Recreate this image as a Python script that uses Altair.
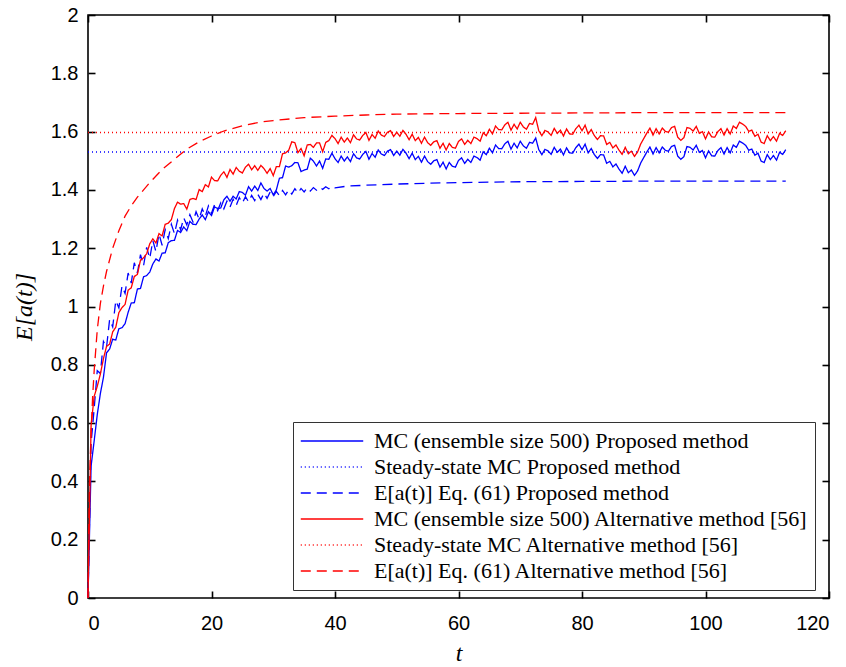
import altair as alt
import pandas as pd

# ---------------- data ----------------
T_STEP = 0.5  # MC samples every 0.5 time units, t = 0 ... 113

mc_proposed = [
    0, 0.453, 0.539, 0.629, 0.701, 0.757, 0.841, 0.854, 0.888, 0.885,
    0.924, 0.927, 0.941, 0.980, 1.012, 1.013, 1.060, 1.062, 1.102, 1.106,
    1.118, 1.146, 1.163, 1.156, 1.183, 1.184, 1.219, 1.226, 1.227, 1.261,
    1.254, 1.273, 1.260, 1.292, 1.282, 1.281, 1.300, 1.314, 1.298, 1.325,
    1.312, 1.342, 1.336, 1.338, 1.366, 1.378, 1.361, 1.378, 1.369, 1.394,
    1.391, 1.382, 1.411, 1.396, 1.413, 1.398, 1.424, 1.405, 1.396, 1.405,
    1.383, 1.400, 1.440, 1.442, 1.482, 1.478, 1.483, 1.494, 1.493, 1.463,
    1.468, 1.471, 1.509, 1.499, 1.482, 1.499, 1.474, 1.506, 1.505, 1.526,
    1.507, 1.494, 1.516, 1.499, 1.513, 1.497, 1.524, 1.510, 1.506, 1.522,
    1.532, 1.505, 1.525, 1.512, 1.537, 1.523, 1.518, 1.533, 1.538, 1.518,
    1.533, 1.519, 1.539, 1.526, 1.507, 1.526, 1.504, 1.515, 1.495, 1.516,
    1.497, 1.488, 1.500, 1.504, 1.478, 1.495, 1.472, 1.494, 1.481, 1.478,
    1.501, 1.510, 1.491, 1.505, 1.494, 1.516, 1.511, 1.502, 1.531, 1.521,
    1.543, 1.527, 1.554, 1.542, 1.541, 1.558, 1.567, 1.540, 1.560, 1.544,
    1.567, 1.551, 1.543, 1.563, 1.560, 1.578, 1.538, 1.521, 1.539, 1.534,
    1.522, 1.546, 1.529, 1.540, 1.520, 1.544, 1.527, 1.526, 1.545, 1.557,
    1.538, 1.557, 1.527, 1.542, 1.521, 1.508, 1.521, 1.520, 1.491, 1.498,
    1.479, 1.489, 1.471, 1.457, 1.481, 1.459, 1.468, 1.450, 1.465, 1.492,
    1.511, 1.530, 1.547, 1.523, 1.545, 1.527, 1.547, 1.536, 1.533, 1.549,
    1.553, 1.516, 1.505, 1.514, 1.549, 1.546, 1.537, 1.553, 1.529, 1.535,
    1.510, 1.534, 1.517, 1.516, 1.535, 1.545, 1.523, 1.545, 1.527, 1.554,
    1.546, 1.567, 1.561, 1.553, 1.536, 1.540, 1.519, 1.526, 1.499, 1.494,
    1.521, 1.504, 1.518, 1.502, 1.529, 1.522, 1.538,
]

mc_alternative = [
    0, 0.592, 0.692, 0.726, 0.768, 0.821, 0.863, 0.871, 0.913, 0.929,
    0.979, 0.996, 1.007, 1.056, 1.064, 1.103, 1.110, 1.159, 1.167, 1.181,
    1.215, 1.232, 1.218, 1.250, 1.242, 1.282, 1.286, 1.298, 1.336, 1.358,
    1.351, 1.353, 1.334, 1.367, 1.371, 1.367, 1.401, 1.394, 1.418, 1.410,
    1.444, 1.432, 1.431, 1.450, 1.462, 1.443, 1.470, 1.454, 1.477, 1.464,
    1.458, 1.478, 1.488, 1.469, 1.483, 1.467, 1.484, 1.473, 1.457, 1.473,
    1.449, 1.480, 1.480, 1.524, 1.527, 1.536, 1.565, 1.562, 1.528, 1.542,
    1.517, 1.554, 1.556, 1.546, 1.561, 1.561, 1.531, 1.563, 1.569, 1.587,
    1.576, 1.559, 1.581, 1.564, 1.578, 1.562, 1.589, 1.575, 1.571, 1.587,
    1.597, 1.570, 1.590, 1.577, 1.602, 1.588, 1.583, 1.598, 1.603, 1.583,
    1.598, 1.584, 1.604, 1.591, 1.572, 1.591, 1.569, 1.580, 1.560, 1.581,
    1.562, 1.553, 1.565, 1.569, 1.543, 1.560, 1.537, 1.559, 1.546, 1.543,
    1.566, 1.575, 1.556, 1.570, 1.559, 1.581, 1.576, 1.567, 1.596, 1.586,
    1.608, 1.592, 1.619, 1.607, 1.606, 1.623, 1.632, 1.605, 1.625, 1.609,
    1.632, 1.616, 1.608, 1.628, 1.625, 1.648, 1.603, 1.586, 1.604, 1.599,
    1.587, 1.611, 1.594, 1.605, 1.585, 1.609, 1.592, 1.591, 1.610, 1.622,
    1.603, 1.622, 1.592, 1.607, 1.586, 1.573, 1.586, 1.585, 1.556, 1.563,
    1.544, 1.554, 1.536, 1.522, 1.546, 1.524, 1.533, 1.515, 1.530, 1.557,
    1.576, 1.595, 1.612, 1.588, 1.610, 1.592, 1.612, 1.601, 1.598, 1.614,
    1.618, 1.581, 1.570, 1.579, 1.614, 1.611, 1.602, 1.618, 1.594, 1.600,
    1.575, 1.599, 1.582, 1.581, 1.600, 1.610, 1.588, 1.610, 1.592, 1.619,
    1.611, 1.632, 1.626, 1.618, 1.601, 1.605, 1.584, 1.591, 1.564, 1.559,
    1.586, 1.569, 1.583, 1.567, 1.594, 1.587, 1.603,
]

eq_proposed_t = [
    0, 0.5, 1, 1.5, 2, 2.5, 3, 3.5, 4, 4.5, 5, 5.5, 6, 6.5, 7, 7.5, 8, 8.5, 9, 9.5,
    10, 10.5, 11, 11.5, 12, 12.5, 13, 13.5, 14, 14.5, 15, 15.5, 16, 16.5, 17, 17.5,
    18, 18.5, 19, 19.5, 20, 20.5, 21, 21.5, 22, 22.5, 23, 23.5, 24, 24.5, 25, 25.5,
    26, 26.5, 27, 27.5, 28, 28.5, 29, 29.5, 30, 30.5, 31, 31.5, 32, 32.5, 33, 33.5,
    34, 34.5, 35, 35.5, 36, 36.5, 37, 37.5, 38, 38.5, 39, 39.5, 40,
    42, 45, 50, 55, 60, 70, 80, 90, 100, 113,
]
eq_proposed = [
    0, 0.53, 0.65, 0.78, 0.77, 0.88, 0.86, 0.955, 0.93, 1.02, 0.995, 1.07, 1.045,
    1.115, 1.08, 1.15, 1.115, 1.178, 1.14, 1.203, 1.165, 1.226, 1.188, 1.249, 1.21,
    1.264, 1.233, 1.282, 1.25, 1.296, 1.263, 1.304, 1.28, 1.315, 1.29, 1.325, 1.30,
    1.335, 1.31, 1.345, 1.32, 1.35, 1.329, 1.356, 1.335, 1.362, 1.341, 1.368, 1.347,
    1.374, 1.355, 1.377, 1.359, 1.381, 1.363, 1.385, 1.367, 1.389, 1.371, 1.393,
    1.377, 1.395, 1.38, 1.398, 1.383, 1.40, 1.386, 1.404, 1.389, 1.405, 1.393,
    1.407, 1.396, 1.408, 1.399, 1.409, 1.402, 1.411, 1.404, 1.412, 1.407,
    1.413, 1.416, 1.42, 1.423, 1.425, 1.428, 1.429, 1.43, 1.43, 1.43,
]

eq_alternative_t = [0, 0.1, 0.25, 0.5, 0.75, 1, 1.5, 2, 2.5, 3, 4, 5, 6, 7, 8, 9, 10,
                    12, 14, 16, 18, 20, 22, 25, 28, 30, 35, 40, 45, 50, 60, 70, 80,
                    90, 100, 113]
eq_alternative = [0, 0.2, 0.4, 0.57, 0.69, 0.78, 0.92, 1.01, 1.07, 1.12, 1.2, 1.26,
                  1.31, 1.345, 1.375, 1.40, 1.425, 1.47, 1.505, 1.54, 1.565, 1.585,
                  1.602, 1.62, 1.633, 1.638, 1.648, 1.653, 1.657, 1.66, 1.662, 1.663,
                  1.664, 1.665, 1.665, 1.665]

steady_t = [0, 113]
steady_proposed = [1.53, 1.53]
steady_alternative = [1.597, 1.597]

labels = [
    "MC (ensemble size 500) Proposed method",
    "Steady-state MC Proposed method",
    "E[a(t)] Eq. (61) Proposed method",
    "MC (ensemble size 500) Alternative method [56]",
    "Steady-state MC Alternative method [56]",
    "E[a(t)] Eq. (61) Alternative method [56]",
]
colors = ["#0000ff", "#0000ff", "#0000ff", "#ff0000", "#ff0000", "#ff0000"]
dashes = [[1, 0], [1, 3], [10, 6], [1, 0], [1, 3], [10, 6]]

x_ticks = [0, 20, 40, 60, 80, 100, 120]
y_ticks = [0, 0.2, 0.4, 0.6, 0.8, 1, 1.2, 1.4, 1.6, 1.8, 2]

# ---------------- long table ----------------
t_mc = [i * T_STEP for i in range(len(mc_proposed))]
series = [
    (labels[0], t_mc, mc_proposed),
    (labels[1], steady_t, steady_proposed),
    (labels[2], eq_proposed_t, eq_proposed),
    (labels[3], t_mc, mc_alternative),
    (labels[4], steady_t, steady_alternative),
    (labels[5], eq_alternative_t, eq_alternative),
]
rows = []
for name, ts, vs in series:
    for t, v in zip(ts, vs):
        rows.append({"t": t, "value": v, "series": name})
df = pd.DataFrame(rows)

x_scale = alt.Scale(domain=[0, 120], nice=False, zero=False)
y_scale = alt.Scale(domain=[0, 2], nice=False, zero=False)

TICK = 7

lines = alt.Chart(df).mark_line(strokeWidth=1.3).encode(
    x=alt.X("t:Q", scale=x_scale,
            axis=alt.Axis(values=x_ticks, format="d", orient="bottom",
                          offset=-TICK, tickSize=TICK, labelPadding=15,
                          title="t", titlePadding=8)),
    y=alt.Y("value:Q", scale=y_scale,
            axis=alt.Axis(values=y_ticks, format="~g", orient="left",
                          offset=-TICK, tickSize=TICK, labelPadding=10,
                          title="E[a(t)]", titlePadding=14)),
    color=alt.Color("series:N", scale=alt.Scale(domain=labels, range=colors),
                    legend=alt.Legend(title=None)),
    strokeDash=alt.StrokeDash("series:N", scale=alt.Scale(domain=labels, range=dashes),
                              legend=alt.Legend(title=None)),
)

mirror = alt.Chart(df).mark_point(opacity=0).encode(
    x=alt.X("t:Q", scale=x_scale,
            axis=alt.Axis(values=x_ticks, orient="top", labels=False, title=None,
                          offset=-TICK, tickSize=TICK)),
    y=alt.Y("value:Q", scale=y_scale,
            axis=alt.Axis(values=y_ticks, orient="right", labels=False, title=None,
                          offset=-TICK, tickSize=TICK)),
)

chart = (
    alt.layer(lines, mirror)
    .resolve_axis(x="independent", y="independent")
    .properties(
        width=741, height=583,
        padding={"left": 88, "top": 15, "right": 17, "bottom": 69},
        autosize=alt.AutoSizeParams(type="none"),
    )
    .configure_view(stroke="black", strokeWidth=1.6)
    .configure_axis(
        grid=False, domain=False, tickColor="black", tickWidth=1.6,
        labelColor="black", labelFont="Liberation Sans", labelFontSize=20,
        titleColor="black", titleFont="Liberation Serif", titleFontSize=24,
        titleFontStyle="italic", titleFontWeight="normal",
    )
    .configure_legend(
        orient="none", legendX=205, legendY=407,
        fillColor="white", strokeColor="#333333", strokeWidth=1, cornerRadius=0,
        padding=7, symbolType="stroke", symbolSize=3900, symbolStrokeWidth=1.3,
        labelFont="Liberation Serif", labelFontSize=22, labelColor="black",
        labelOffset=10, rowPadding=2, clipHeight=24, labelLimit=0,
    )
)

chart.save("out.html", embed_options={"renderer": "svg", "actions": False})
